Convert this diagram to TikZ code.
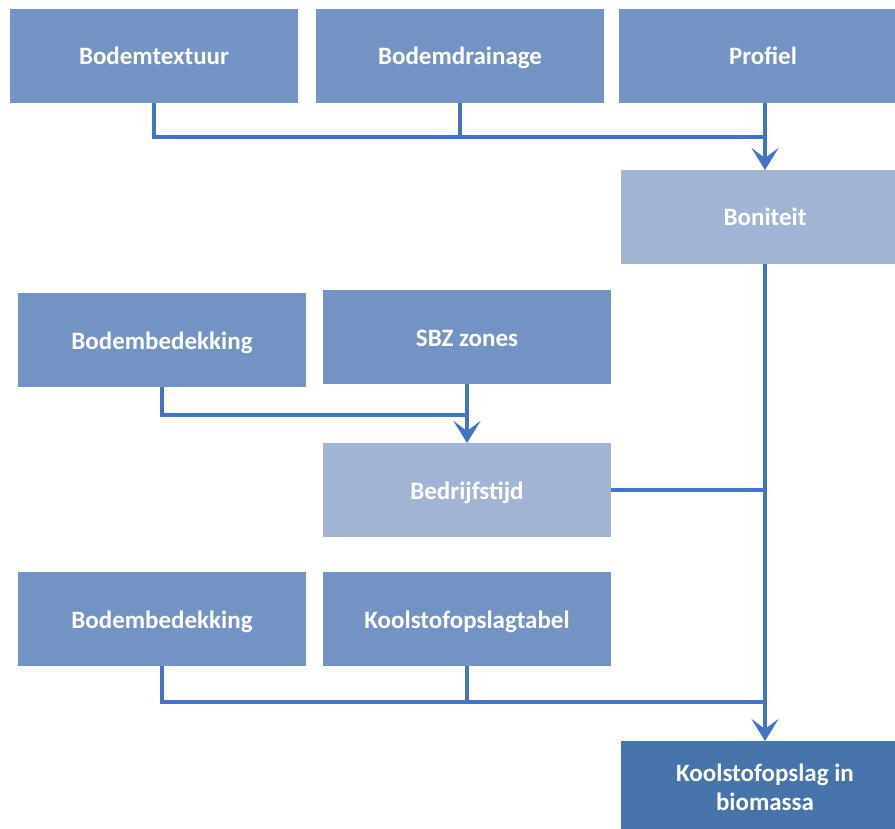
\documentclass[tikz,border=0pt]{standalone}
\usepackage{fontspec}
\setmainfont{Carlito}
\usetikzlibrary{arrows.meta}
\definecolor{boxmid}{RGB}{114,147,195}
\definecolor{boxlight}{RGB}{162,180,212}
\definecolor{boxdark}{RGB}{70,115,170}
\definecolor{linkcol}{RGB}{68,114,196}
\tikzset{
  boxbase/.style={draw=none, text=white, font=\bfseries\fontsize{25}{29}\selectfont,
    minimum width=288pt, minimum height=94pt, inner sep=0pt, outer sep=0pt, align=center},
  box/.style={boxbase, fill=boxmid, text height=20pt, text depth=2pt},
  lightbox/.style={box, fill=boxlight},
  darkbox/.style={boxbase, fill=boxdark},
  link/.style={draw=linkcol, line width=4pt},
  arrowlink/.style={link, -{Stealth[length=22pt, width=27pt, inset=10pt]}}
}
\begin{document}
\begin{tikzpicture}[x=1pt, y=-1pt]
  \useasboundingbox (0,0) rectangle (895,829);
  \clip (0,0) rectangle (895,829);

  % soil inputs
  \node[box] (tex)   at (154,56) {Bodemtextuur};
  \node[box] (drain) at (460,56) {Bodemdrainage};
  \node[box] (prof)  at (763,56) {Profiel};
  \node[lightbox] (bon) at (765,217) {Boniteit};

  % management period
  \node[box] (cov1) at (162,340) {Bodembedekking};
  \node[box] (sbz)  at (467,337) {SBZ zones};
  \node[lightbox] (bed) at (467,490) {Bedrijfstijd};

  % carbon table
  \node[box] (cov2) at (162,619) {Bodembedekking};
  \node[box] (tab)  at (467,619) {Koolstofopslagtabel};
  \node[darkbox, minimum height=92pt] (fin) at (765,787) {Koolstofopslag in\\biomassa};

  % junction points
  \coordinate (j1) at (765,137);
  \coordinate (j2) at (467,415);
  \coordinate (j3) at (765,702);

  % connectors
  \draw[link] (tex.south) |- (j1);
  \draw[link] (drain.south) -- (drain.south |- j1);
  \draw[arrowlink] (prof.south -| bon.north) -- (bon.north);

  \draw[link] (cov1.south) |- (j2);
  \draw[arrowlink] (sbz.south) -- (bed.north);

  \draw[link] (bed.east) -- (bed.east -| bon.south);
  \draw[link] (cov2.south) |- (j3);
  \draw[link] (tab.south) -- (tab.south |- j3);
  \draw[arrowlink] (bon.south) -- (fin.north);
\end{tikzpicture}
\end{document}
